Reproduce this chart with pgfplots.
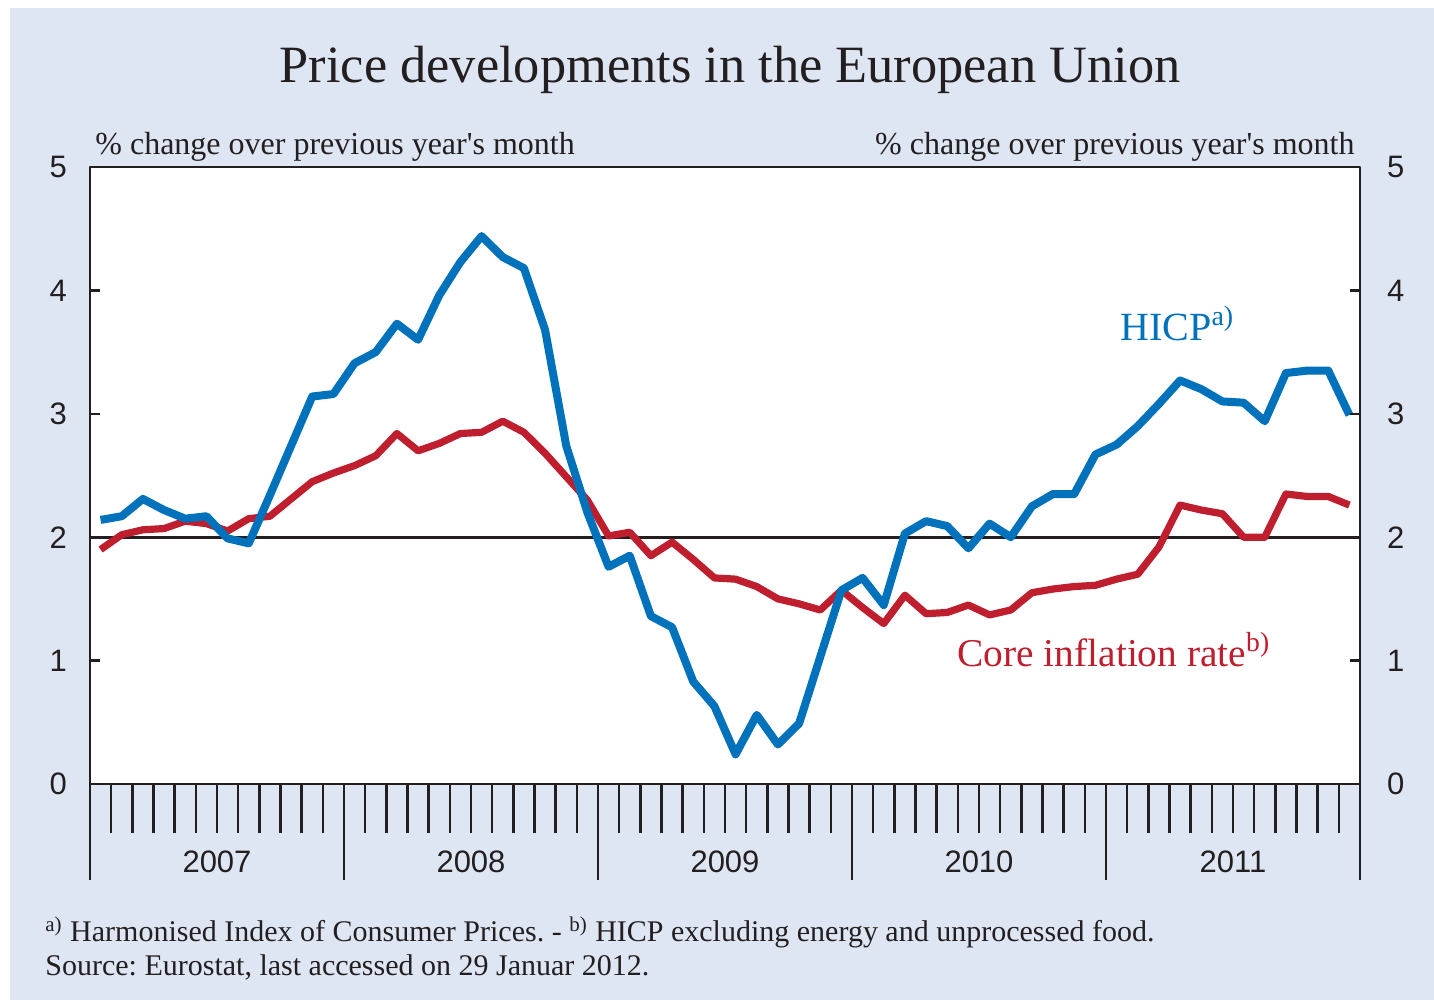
\documentclass[border=0pt]{standalone}
\usepackage{pgfplots}
\pgfplotsset{compat=1.18}
\usepackage{pgfplotstable}
\usepackage{fontspec}
\setmainfont{Liberation Serif}
\setsansfont{Liberation Sans}
\frenchspacing

\definecolor{panel}{RGB}{223,230,243}
\definecolor{hicpblue}{RGB}{0,114,188}
\definecolor{corered}{RGB}{190,30,45}
\definecolor{ink}{RGB}{35,31,32}

% month index 0 = Jan 2007 ... 59 = Dec 2011
\pgfplotstableread{
m hicp core
0  2.14 1.90
1  2.17 2.02
2  2.31 2.06
3  2.22 2.07
4  2.15 2.13
5  2.17 2.11
6  1.99 2.05
7  1.95 2.15
8  2.34 2.17
9  2.74 2.31
10 3.14 2.45
11 3.16 2.52
12 3.41 2.58
13 3.50 2.66
14 3.73 2.84
15 3.60 2.70
16 3.96 2.76
17 4.23 2.84
18 4.44 2.85
19 4.27 2.94
20 4.18 2.85
21 3.68 2.68
22 2.74 2.49
23 2.20 2.30
24 1.76 2.01
25 1.85 2.04
26 1.36 1.85
27 1.27 1.96
28 0.83 1.82
29 0.63 1.67
30 0.24 1.66
31 0.56 1.60
32 0.32 1.50
33 0.49 1.46
34 1.03 1.41
35 1.57 1.57
36 1.67 1.43
37 1.45 1.30
38 2.03 1.53
39 2.13 1.38
40 2.09 1.39
41 1.91 1.45
42 2.11 1.37
43 2.00 1.41
44 2.25 1.55
45 2.35 1.58
46 2.35 1.60
47 2.67 1.61
48 2.75 1.66
49 2.90 1.70
50 3.08 1.92
51 3.27 2.26
52 3.20 2.22
53 3.10 2.19
54 3.09 2.00
55 2.94 2.00
56 3.33 2.35
57 3.35 2.33
58 3.35 2.33
59 2.99 2.26
}\inflation

\begin{document}
\begin{tikzpicture}
\useasboundingbox (0,0) rectangle (717pt,502.5pt);
\fill[white] (0,0) rectangle (717pt,502.5pt);
\fill[panel] (5pt,2.5pt) rectangle (717pt,498.5pt);

\pgfplotsset{
  frame/.style={
    at={(45pt,110.5pt)}, anchor=south west,
    scale only axis, width=635pt, height=308.5pt,
    xmin=-0.5, xmax=59.5, ymin=0, ymax=5,
    axis line style={line width=1.3pt, ink},
    tick style={line width=1.2pt, ink},
    tick label style={font=\sffamily\fontsize{15.5}{15.5}\selectfont, text=ink},
    /pgf/number format/assume math mode=true,
  }
}

% data axis with month / year ticks
\begin{axis}[frame,
    axis background/.style={fill=white},
    ytick=\empty,
    xtick={-0.5,11.5,...,59.5},
    xticklabels={},
    minor xtick={0.5,1.5,...,58.5},
    xtick pos=bottom, tick align=outside,
    major tick length=48pt, minor tick length=24.5pt,
    extra x ticks={5.5,17.5,29.5,41.5,53.5},
    extra x tick labels={2007,2008,2009,2010,2011},
    extra x tick style={major tick length=0pt, xticklabel style={yshift=-30pt}},
    line join=round,
]
\addplot[ink, line width=1.6pt] coordinates {(-0.5,2) (59.5,2)};
\addplot[corered, line width=3.6pt] table[x=m, y=core] {\inflation};
\addplot[hicpblue, line width=4pt] table[x=m, y=hicp] {\inflation};
\end{axis}

% left y ticks and labels
\begin{axis}[frame,
    hide x axis,
    ytick={0,...,5},
    ytick pos=both, yticklabel pos=left,
    tick align=inside, major tick length=5pt,
    yticklabel style={xshift=-8pt},
]
\end{axis}

% right y labels
\begin{axis}[frame,
    hide x axis,
    ytick={0,...,5},
    ytick pos=right, yticklabel pos=right,
    major tick length=0pt,
    yticklabel style={xshift=10pt},
]
\end{axis}

\node[anchor=base, text=ink, font=\fontsize{26.2}{26.2}\selectfont] at (365pt,461pt)
  {Price developments in the European Union};
\node[anchor=base west, inner sep=0pt, text=ink, font=\fontsize{16}{16}\selectfont] at (47.5pt,425pt)
  {\% change over previous year\textquotesingle s month};
\node[anchor=base east, inner sep=0pt, text=ink, font=\fontsize{16}{16}\selectfont] at (677.5pt,425pt)
  {\% change over previous year\textquotesingle s month};
\node[anchor=base west, inner sep=0pt, text=hicpblue, font=\fontsize{20}{20}\selectfont] at (560pt,332pt)
  {HICP\textsuperscript{a)}};
\node[anchor=base west, inner sep=0pt, text=corered, font=\fontsize{19.7}{19.7}\selectfont] at (478.5pt,169pt)
  {Core inflation rate\textsuperscript{b)}};
\node[anchor=base west, inner sep=0pt, text=ink, font=\fontsize{15}{15}\selectfont] at (22.5pt,31.5pt)
  {\textsuperscript{a)} Harmonised Index of Consumer Prices. - \textsuperscript{b)} HICP excluding energy and unprocessed food.};
\node[anchor=base west, inner sep=0pt, text=ink, font=\fontsize{15}{15}\selectfont] at (22.5pt,14.5pt)
  {Source: Eurostat, last accessed on 29 Januar 2012.};
\end{tikzpicture}
\end{document}
